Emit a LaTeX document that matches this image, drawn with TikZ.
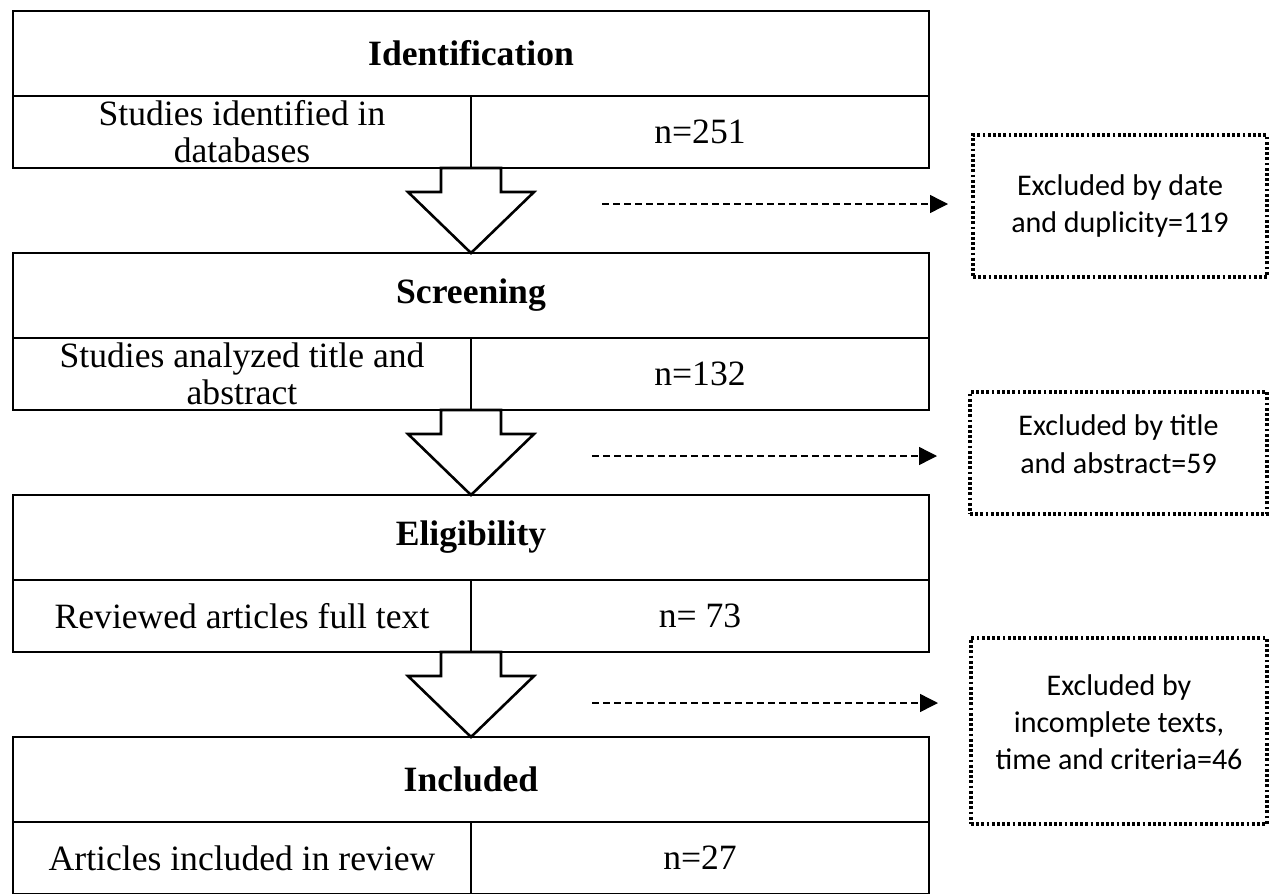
\documentclass[tikz,border=0pt]{standalone}
\usepackage{fontspec}
\setmainfont{Liberation Serif}
\newfontfamily\calibri{Carlito}
\usetikzlibrary{positioning, arrows.meta}
\tikzset{
  hdr/.style    = {draw, line width=1.3pt, outer sep=0pt, inner sep=0pt,
                   minimum width=458pt, minimum height=42.5pt,
                   font=\fontsize{17.8}{18.6}\selectfont\bfseries},
  cell/.style   = {draw, line width=1.3pt, outer sep=0pt, inner sep=0pt,
                   minimum width=229pt, minimum height=36pt, align=center,
                   font=\fontsize{17.8}{18.6}\selectfont},
  excl/.style   = {draw, line width=1.6pt, dash pattern=on 1.4pt off 1.2pt,
                   outer sep=0pt, inner sep=0pt, align=center,
                   font=\calibri\fontsize{15}{18.6}\selectfont},
  bigar/.style  = {draw, line width=1.3pt, fill=white},
  dashar/.style = {-{Triangle[length=9pt, width=9pt]}, line width=0.7pt,
                   dash pattern=on 3.4pt off 2.1pt},
}
\begin{document}
\begin{tikzpicture}[x=0.5pt, y=-0.5pt]
  \useasboundingbox (0,0) rectangle (1269,894);
  % stage boxes
  \node[hdr] (idh) at (471,53.5) {Identification};
  \node[cell, anchor=north west] (idl) at (idh.south west) {Studies identified in\\databases};
  \node[cell, anchor=north west] (idr) at (idl.north east) {n=251};

  \node[hdr, below=42.5pt of idl.south east] (scrh) {Screening};
  \node[cell, anchor=north west] (scrl) at (scrh.south west) {Studies analyzed title and\\abstract};
  \node[cell, anchor=north west] (scrr) at (scrl.north east) {n=132};

  \node[hdr, below=42.5pt of scrl.south east] (elih) {Eligibility};
  \node[cell, anchor=north west] (elil) at (elih.south west) {Reviewed articles full text};
  \node[cell, anchor=north west] (elir) at (elil.north east) {n= 73};

  \node[hdr, below=42.5pt of elil.south east] (inch) {Included};
  \node[cell, anchor=north west] (incl) at (inch.south west) {Articles included in review};
  \node[cell, anchor=north west] (incr) at (incl.north east) {n=27};

  % block arrows between stages
  \foreach \a/\b in {idl/scrh, scrl/elih, elil/inch}
    \draw[bigar] ([xshift=-15pt]\a.south east) -- ++(0,24) -- ++(-33,0) -- (\b.north)
      -- ([xshift=31.5pt, yshift=-12pt]\a.south east) -- ++(-33,0) -- ++(0,-24) -- cycle;

  % exclusions
  \node[excl, minimum width=147pt, minimum height=71pt] (exA) at (1120,206)
    {Excluded by date\\and duplicity=119};
  \node[excl, text depth=9pt, minimum width=148.5pt, minimum height=61pt] (exB) at (1118.5,453)
    {Excluded by title\\and abstract=59};
  \node[excl, text depth=9pt, minimum width=148pt, minimum height=93pt] (exC) at (1119,731)
    {Excluded by\\incomplete texts,\\time and criteria=46};

  \coordinate (d1) at (602,204);
  \coordinate (d2) at (592,456);
  \coordinate (d3) at (592,703);
  \draw[dashar, shorten >=12.5pt] (d1) -- (d1 -| exA.west);
  \draw[dashar, shorten >=16.5pt] (d2) -- (d2 -| exB.west);
  \draw[dashar, shorten >=16.5pt] (d3) -- (d3 -| exC.west);
\end{tikzpicture}
\end{document}
